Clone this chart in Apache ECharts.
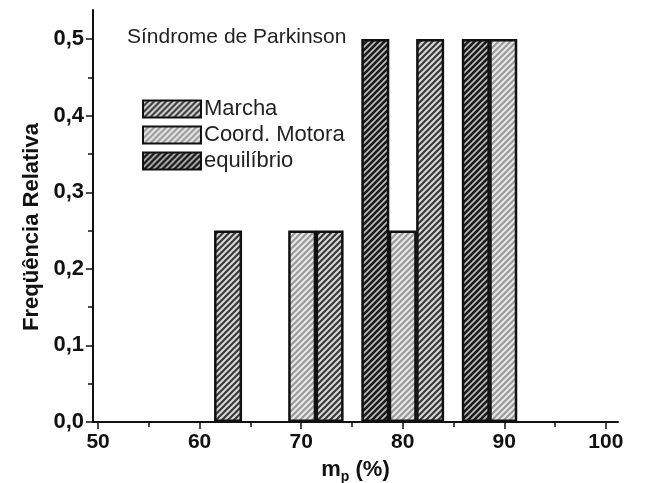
<!DOCTYPE html>
<html><head><meta charset="utf-8">
<script src="https://cdn.jsdelivr.net/npm/echarts@6/dist/echarts.min.js"></script>
<style>html,body{margin:0;padding:0;background:#fff}#c{width:647px;height:483px}</style>
</head><body><div id="c"></div>
<script>
// Data
const seriesNames = ['Marcha', 'Coord. Motora', 'equilíbrio'];
const marchaX = [62.8, 72.8, 82.7];
const marchaY = [0.25, 0.25, 0.5];
const coordX = [70.1, 80.0, 89.9];
const coordY = [0.25, 0.25, 0.5];
const equilibrioX = [77.3, 87.2];
const equilibrioY = [0.5, 0.5];
const xTickLabels = [50, 60, 70, 80, 90, 100];
const yTickLabels = [0, 0.1, 0.2, 0.3, 0.4, 0.5];
const xMinorTicks = [55, 65, 75, 85, 95];
const yMinorTicks = [0.05, 0.15, 0.25, 0.35, 0.45];

function hatch(bg, fg, lw) {
  const s = 6, c = document.createElement('canvas');
  c.width = s; c.height = s;
  const g = c.getContext('2d');
  g.fillStyle = bg; g.fillRect(0, 0, s, s);
  g.strokeStyle = fg; g.lineWidth = lw;
  g.beginPath();
  g.moveTo(-s, 2*s); g.lineTo(2*s, -s);
  g.moveTo(-s, s); g.lineTo(s, -s);
  g.moveTo(0, 2*s); g.lineTo(2*s, 0);
  g.stroke();
  return { image: c, repeat: 'repeat' };
}
const fills = [hatch('#d8d8d8', '#3a3a3a', 2.2), hatch('#e8e8e8', '#9a9a9a', 2.2), hatch('#bdbdbd', '#1a1a1a', 2.6)];
const pairs = (xs, ys) => xs.map((x, i) => [x, ys[i]]);
const datas = [pairs(marchaX, marchaY), pairs(coordX, coordY), pairs(equilibrioX, equilibrioY)];

const fnt = 'Liberation Sans, Arial, sans-serif';
const yfmt = v => v.toFixed(1).replace('.', ',');
const chart = echarts.init(document.getElementById('c'));
const xBase = { type: 'value', min: 49.5, max: 101.2, splitLine: { show: false } };
const yBase = { type: 'value', min: 0, max: 0.538, splitLine: { show: false } };
chart.setOption({
  animation: false,
  backgroundColor: '#fff',
  grid: { left: 93, right: 29, top: 10, bottom: 61, containLabel: false, outerBoundsMode: 'none' },
  title: { text: 'Síndrome de Parkinson', left: 122, top: 22,
    textStyle: { fontFamily: fnt, fontSize: 21, fontWeight: 'normal', color: '#222' } },
  legend: {
    orient: 'vertical', left: 137, top: 93, itemWidth: 58, itemHeight: 17, itemGap: 4,
    icon: 'rect',
    data: seriesNames,
    textStyle: { fontFamily: fnt, fontSize: 22, color: '#222', padding: [0, 0, 0, -2] }
  },
  xAxis: [
    Object.assign({}, xBase, {
      name: '{a|m}{s|p}{a| (%)}', nameLocation: 'middle', nameGap: 34,
      nameTextStyle: { rich: { a: { fontFamily: fnt, fontSize: 22, fontWeight: 'bold', color: '#111' },
                                s: { fontFamily: fnt, fontSize: 14, fontWeight: 'bold', color: '#111', padding: [14, 0, 0, 0] } } },
      axisLine: { onZero: false, lineStyle: { color: '#111', width: 2 } },
      axisTick: { show: true, length: 5, inside: false, customValues: xMinorTicks, lineStyle: { color: '#111', width: 1.5 } },
      axisLabel: { customValues: xTickLabels, margin: 10, fontFamily: fnt, fontSize: 21, fontWeight: 'bold', color: '#111' }
    }),
    Object.assign({}, xBase, {
      position: 'bottom', axisLine: { show: false },
      axisTick: { show: true, length: 7, customValues: xTickLabels, lineStyle: { color: '#111', width: 1.5 } },
      axisLabel: { show: false }
    })
  ],
  yAxis: [
    Object.assign({}, yBase, {
      name: 'Freqüência Relativa', nameLocation: 'middle', nameGap: 50, nameRotate: 90,
      nameTextStyle: { fontFamily: fnt, fontSize: 22, fontWeight: 'bold', color: '#111', padding: [0, 22, 0, 0] },
      axisLine: { onZero: false, lineStyle: { color: '#111', width: 2 } },
      axisTick: { show: true, length: 5, customValues: yMinorTicks, lineStyle: { color: '#111', width: 1.5 } },
      axisLabel: { customValues: yTickLabels, formatter: yfmt, margin: 9, fontFamily: fnt, fontSize: 22, fontWeight: 'bold', color: '#111' }
    }),
    Object.assign({}, yBase, {
      position: 'left', axisLine: { show: false },
      axisTick: { show: true, length: 7, customValues: yTickLabels, lineStyle: { color: '#111', width: 1.5 } },
      axisLabel: { show: false }
    })
  ],
  series: seriesNames.map((n, i) => ({
    name: n, type: 'bar', xAxisIndex: 0, yAxisIndex: 0,
    data: datas[i], barWidth: 28, barGap: '-100%',
    itemStyle: { color: fills[i], borderColor: '#111', borderWidth: 2.5 }
  }))
});
</script></body></html>
